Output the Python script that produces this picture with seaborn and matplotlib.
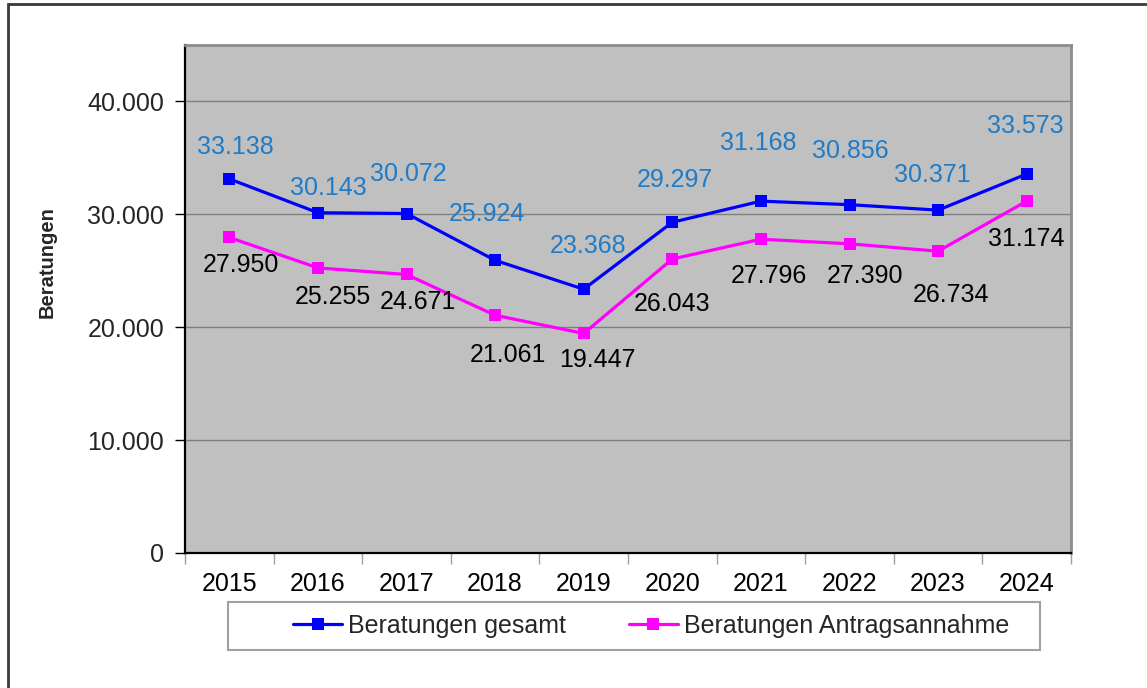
import matplotlib
matplotlib.use("Agg")
import matplotlib.pyplot as plt
from matplotlib.patches import Rectangle
from matplotlib.ticker import FixedLocator, FuncFormatter
import seaborn as sns
import pandas as pd

years = [2015, 2016, 2017, 2018, 2019, 2020, 2021, 2022, 2023, 2024]
gesamt = [33138, 30143, 30072, 25924, 23368, 29297, 31168, 30856, 30371, 33573]
antrag = [27950, 25255, 24671, 21061, 19447, 26043, 27796, 27390, 26734, 31174]
series_names = ["Beratungen gesamt", "Beratungen Antragsannahme"]
y_ticks = [0, 10000, 20000, 30000, 40000]

# label offsets in pixels (dx, dy) relative to the point (screen coords, y up)
off_g = [(6, 32), (10, 25), (2, 40), (-8, 46), (4, 43), (3, 42), (-3, 58), (1, 54), (-6, 35), (-1, 48)]
off_a = [(12, -28), (15, -29), (11, -28), (13, -40), (14, -27), (0, -45), (8, -37), (15, -32), (13, -44), (0, -38)]

sns.set_theme(style="white")
plt.rcParams["font.family"] = ["Liberation Sans", "DejaVu Sans"]

df = pd.DataFrame({
    "Jahr": years * 2,
    "Wert": gesamt + antrag,
    "Serie": [series_names[0]] * len(years) + [series_names[1]] * len(years),
})

DPI = 100
W, H = 1147, 688
FS = 18
fig = plt.figure(figsize=(W / DPI, H / DPI), dpi=DPI)
fig.patch.set_facecolor("white")
ax = fig.add_axes([185 / W, 1 - 553 / H, (1071 - 185) / W, (553 - 45) / H])
ax.set_facecolor("#C0C0C0")

palette = {series_names[0]: "#0000FF", series_names[1]: "#FF00FF"}
sns.lineplot(data=df, x="Jahr", y="Wert", hue="Serie", palette=palette,
             marker="s", markersize=9, markeredgewidth=0, linewidth=2.3,
             ax=ax, legend=False, zorder=3)

ax.set_xlim(years[0] - 0.5, years[-1] + 0.5)
ax.set_ylim(0, 45000)
ax.set_yticks(y_ticks)
ax.yaxis.set_major_formatter(FuncFormatter(lambda v, p: f"{int(v):,}".replace(",", ".")))
ax.yaxis.grid(True, color="#7F7F7F", linewidth=1)
ax.set_axisbelow(True)

ax.set_xticks(years)
ax.set_xticklabels([str(y) for y in years])
ax.tick_params(axis="x", which="major", length=0, pad=14, labelsize=FS, colors="black")
ax.xaxis.set_minor_locator(FixedLocator([y + 0.5 for y in [years[0] - 1] + years]))
ax.tick_params(axis="x", which="minor", length=8, width=1, color="#A0A0A0", bottom=True)
ax.tick_params(axis="y", which="major", length=7, width=1, color="black", labelsize=FS, pad=8, left=True)

ax.set_xlabel("")
ax.set_ylabel("Beratungen", fontsize=14.5, fontweight="bold")
ax.yaxis.set_label_coords((57 - 185) / 886, (553 - 262) / 508)

for s in ["left", "bottom"]:
    ax.spines[s].set_color("black")
    ax.spines[s].set_linewidth(1.6)
for s in ["top", "right"]:
    ax.spines[s].set_color("#8C8C8C")
    ax.spines[s].set_linewidth(2)

px = 72 / DPI
for x, v, (dx, dy) in zip(years, gesamt, off_g):
    ax.annotate(f"{v:,}".replace(",", "."), (x, v), xytext=(dx * px, dy * px),
                textcoords="offset points", ha="center", va="center",
                fontsize=FS, color="#1E7CC8", zorder=4)
for x, v, (dx, dy) in zip(years, antrag, off_a):
    ax.annotate(f"{v:,}".replace(",", "."), (x, v), xytext=(dx * px, dy * px),
                textcoords="offset points", ha="center", va="center",
                fontsize=FS, color="black", zorder=4)

# legend box and legend
fig.patches.append(Rectangle((228 / W, 1 - 650 / H), (1040 - 228) / W, 48 / H,
                             transform=fig.transFigure, facecolor="white",
                             edgecolor="#A0A0A0", linewidth=1.5))
handles = [plt.Line2D([], [], color=palette[n], marker="s", markersize=9,
                      markeredgewidth=0, linewidth=2.3) for n in series_names]
fig.legend(handles, series_names, loc="center", bbox_to_anchor=(651 / W, 1 - 626 / H),
           ncol=2, frameon=False, fontsize=FS, handlelength=1.96,
           handletextpad=0.24, columnspacing=2.5)

# outer figure border
fig.patches.append(Rectangle((8 / W, -0.1), 1.2, 1.1 - 4 / H, transform=fig.transFigure,
                             facecolor="none", edgecolor="#3A3A3A", linewidth=2))

fig.savefig("out.png", dpi=DPI)
